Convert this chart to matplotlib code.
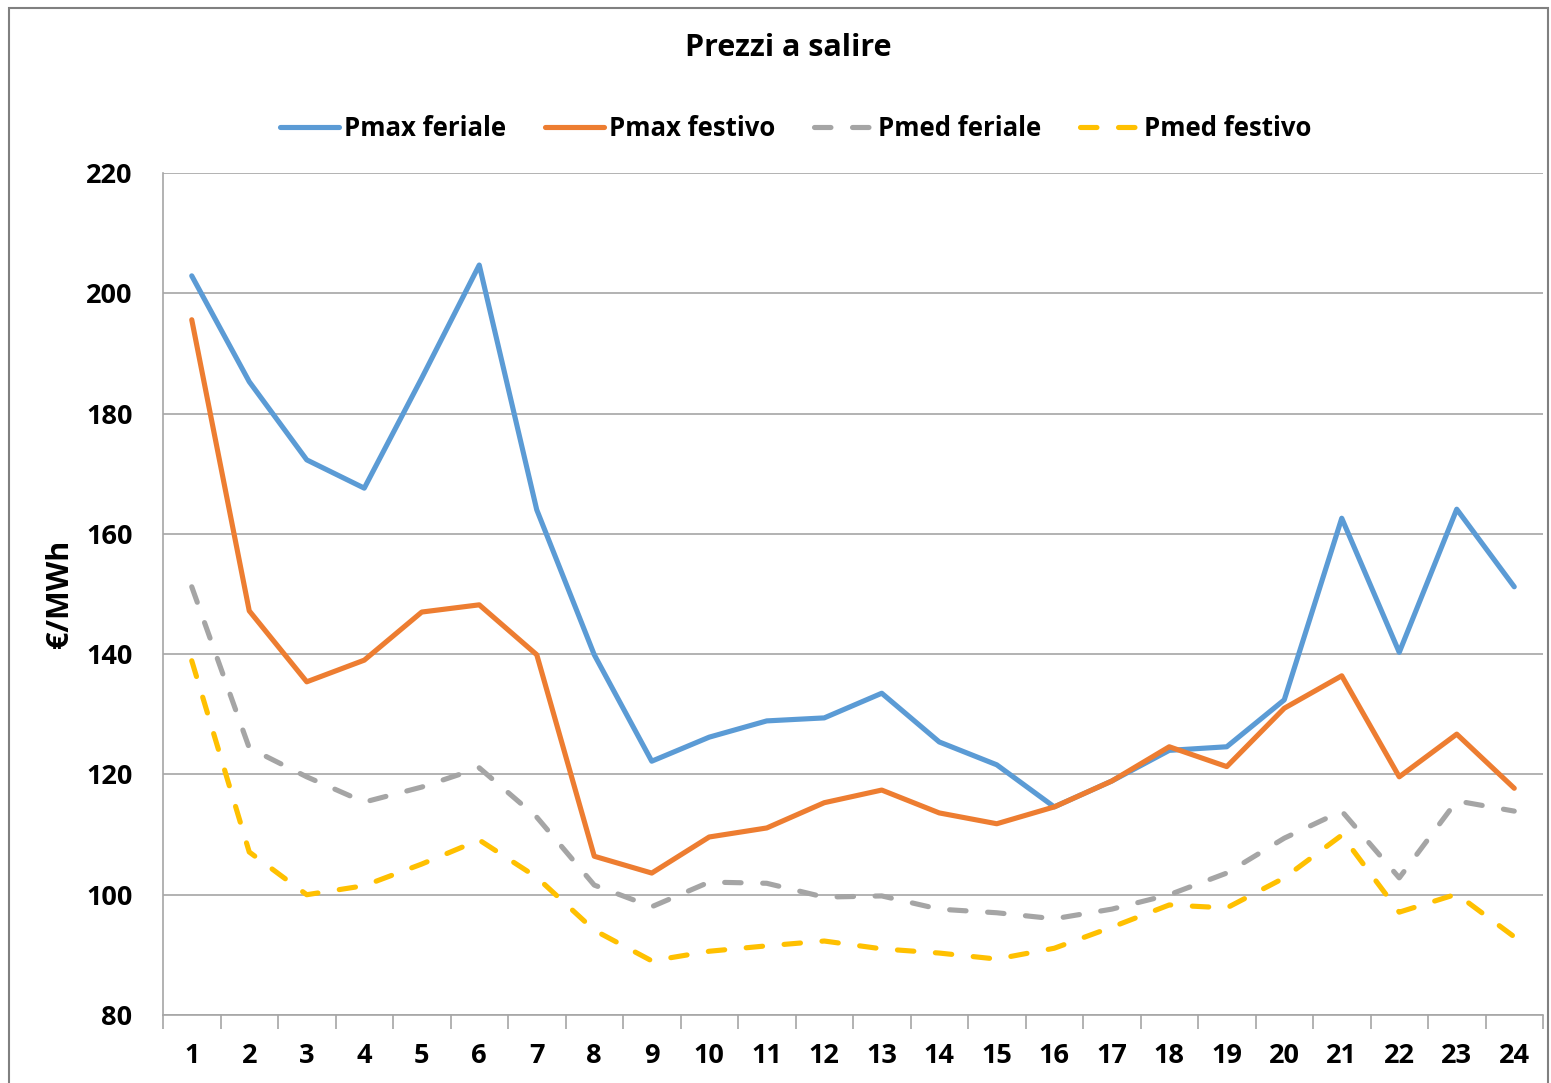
import matplotlib
matplotlib.use("Agg")
import matplotlib.pyplot as plt
from matplotlib.patches import Rectangle
from matplotlib.lines import Line2D
import numpy as np

hours = list(range(1, 25))
pmax_feriale = [202.9, 185.3, 172.3, 167.6, 185.9, 204.7, 164.0, 139.9, 122.2, 126.2, 128.9, 129.4,
                133.5, 125.4, 121.6, 114.6, 118.9, 124.0, 124.6, 132.4, 162.6, 140.3, 164.1, 151.2]
pmax_festivo = [195.6, 147.2, 135.4, 139.0, 147.0, 148.2, 139.9, 106.4, 103.6, 109.6, 111.1, 115.3,
                117.4, 113.6, 111.8, 114.6, 118.9, 124.6, 121.3, 131.0, 136.4, 119.6, 126.7, 117.7]
pmed_feriale = [151.2, 124.4, 119.6, 115.4, 117.9, 121.1, 112.9, 101.6, 98.0, 102.1, 101.9, 99.6,
                99.8, 97.6, 97.0, 96.0, 97.6, 100.0, 103.6, 109.4, 113.9, 102.8, 115.6, 113.9]
pmed_festivo = [138.9, 107.1, 100.0, 101.5, 105.1, 109.1, 102.9, 94.1, 89.0, 90.6, 91.5, 92.3,
                91.0, 90.3, 89.3, 91.1, 94.6, 98.3, 97.8, 102.8, 109.9, 97.1, 100.1, 93.0]
series_names = ["Pmax feriale", "Pmax festivo", "Pmed feriale", "Pmed festivo"]
y_ticks = [80, 100, 120, 140, 160, 180, 200, 220]

plt.rcParams['font.family'] = ['Open Sans', 'DejaVu Sans']

fig = plt.figure(figsize=(15.51, 10.83), dpi=100)
ax = fig.add_axes([163/1551, 1-1015/1083, (1543-163)/1551, (1015-173)/1083])

lw = 3.7
c_blue, c_orange, c_gray, c_yellow = "#5B9BD5", "#ED7D31", "#A5A5A5", "#FFC000"
dash = (3.2, 4.2)

ax.plot(hours, pmax_feriale, color=c_blue, lw=lw, solid_capstyle='round', solid_joinstyle='round', label=series_names[0], zorder=3)
ax.plot(hours, pmax_festivo, color=c_orange, lw=lw, solid_capstyle='round', solid_joinstyle='round', label=series_names[1], zorder=4)
ax.plot(hours, pmed_feriale, color=c_gray, lw=lw, dashes=dash, dash_capstyle='round', label=series_names[2], zorder=3)
ax.plot(hours, pmed_festivo, color=c_yellow, lw=lw, dashes=dash, dash_capstyle='round', label=series_names[3], zorder=3)

ax.set_xlim(0.5, 24.5)
ax.set_ylim(80, 220)
ax.set_yticks(y_ticks)
ax.set_xticks(hours)
ax.set_xticks(np.arange(0.5, 25, 1), minor=True)
ax.tick_params(axis='x', which='major', length=0, pad=20, labelsize=19.5)
ax.tick_params(axis='x', which='minor', length=10, width=1.2, color='#A6A6A6')
ax.tick_params(axis='y', length=0, pad=22, labelsize=19.5)
for lab in ax.get_xticklabels() + ax.get_yticklabels():
    lab.set_fontweight('bold')

ax.grid(axis='y', color='#A6A6A6', lw=1.2, zorder=0)
for s in ['top', 'right']:
    ax.spines[s].set_visible(False)
for s in ['left', 'bottom']:
    ax.spines[s].set_color('#A6A6A6')
    ax.spines[s].set_linewidth(1.2)

ax.set_ylabel("€/MWh", fontsize=22, fontweight='bold', labelpad=8)

fig.text(788/1551, 1-48/1083, "Prezzi a salire", ha='center', va='center', fontsize=22, fontweight='bold')

handles = [Line2D([], [], color=c_blue, lw=lw, solid_capstyle='round'),
           Line2D([], [], color=c_orange, lw=lw, solid_capstyle='round'),
           Line2D([], [], color=c_gray, lw=lw, dashes=dash, dash_capstyle='round'),
           Line2D([], [], color=c_yellow, lw=lw, dashes=dash, dash_capstyle='round')]
leg = fig.legend(handles, series_names, loc='center', bbox_to_anchor=(796/1551, 1-128/1083), ncol=4,
                 frameon=False, prop={'size': 18.5, 'weight': 'bold'}, handlelength=2.3,
                 handletextpad=0.2, columnspacing=1.5)

fig.patches.append(Rectangle((9/1551, -0.01), (1548-9)/1551, 1-8/1083+0.01, transform=fig.transFigure,
                             fill=False, edgecolor='#808080', lw=1.5))

fig.savefig("out.png", dpi=100, facecolor='white')
